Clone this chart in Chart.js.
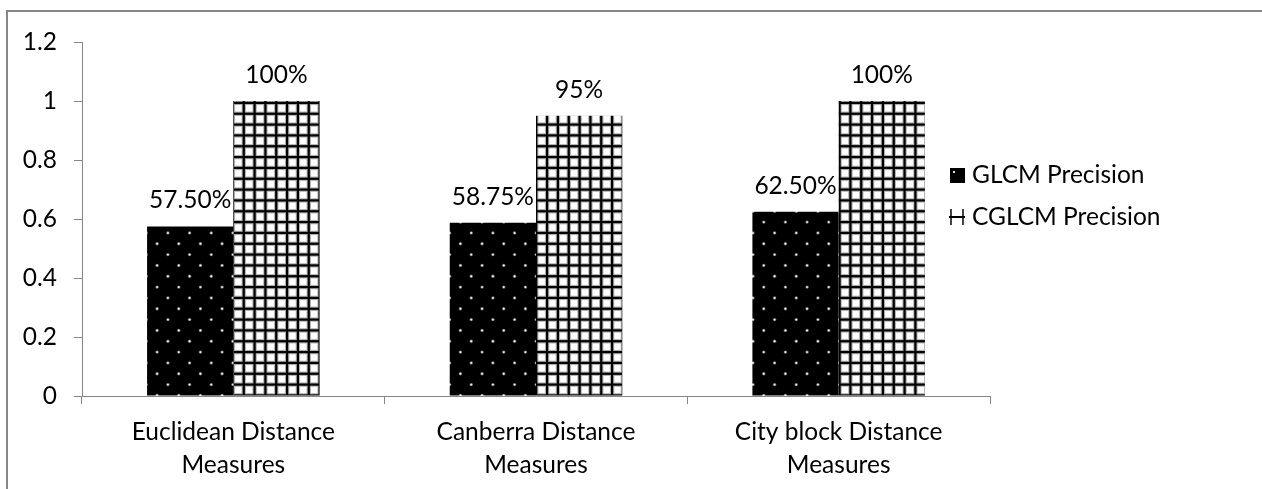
<!DOCTYPE html>
<html>
<head>
<meta charset="utf-8">
<script src="https://cdn.jsdelivr.net/npm/chart.js@4/dist/chart.umd.min.js"></script>
<style>
  html, body { margin: 0; padding: 0; background: #fff; }
  canvas { display: block; }
</style>
</head>
<body>
<canvas id="chart" width="1262" height="489"></canvas>
<script>
// Categories (multi-line axis labels)
const categories = [
  ["Euclidean Distance", "Measures"],
  ["Canberra Distance", "Measures"],
  ["City block Distance", "Measures"]
];
// Series
const seriesNames = ["GLCM Precision", "CGLCM Precision"];
const glcmPrecision = [0.575, 0.5875, 0.625];
const cglcmPrecision = [1.0, 0.95, 1.0];
// Percentage decimals used for each series' value labels
const labelDecimals = [2, 0];
// Y axis tick labels
const yTickLabels = ["0", "0.2", "0.4", "0.6", "0.8", "1", "1.2"];

const FONT = "Lato, 'Open Sans', sans-serif";
const FONT_SIZE = 24.5;
const AXIS_GREY = "#868686";

// Black fill with staggered white dots
function makeDotPattern(ctx) {
  const size = 65, s = size / 6;
  const c = document.createElement("canvas");
  c.width = size; c.height = size;
  const g = c.getContext("2d");
  g.fillStyle = "#000";
  g.fillRect(0, 0, size, size);
  for (let r = 0; r < 6; r++) {
    for (let k = 0; k < 3; k++) {
      const x = k * 2 * s + (r % 2) * s + s / 2;
      const y = r * s + s / 2;
      g.fillStyle = "rgba(200,200,200,0.6)";
      g.beginPath(); g.arc(x, y, 1.7, 0, Math.PI * 2); g.fill();
      g.fillStyle = "#f4f4f4";
      g.beginPath(); g.arc(x, y, 0.9, 0, Math.PI * 2); g.fill();
    }
  }
  return ctx.createPattern(c, "repeat");
}

// White fill with a dense black grid
function makeGridPattern(ctx) {
  const size = 65, s = size / 6;
  const c = document.createElement("canvas");
  c.width = size; c.height = size;
  const g = c.getContext("2d");
  g.fillStyle = "#fff";
  g.fillRect(0, 0, size, size);
  for (let i = 0; i < 6; i++) {
    const p = i * s + s / 2;
    g.fillStyle = "#b0b0b0";
    g.fillRect(p - 2.2, 0, 4.4, size);
    g.fillRect(0, p - 2.2, size, 4.4);
  }
  g.fillStyle = "#000";
  for (let i = 0; i < 6; i++) {
    const p = i * s + s / 2;
    g.fillRect(p - 1.1, 0, 2.2, size);
    g.fillRect(0, p - 1.1, size, 2.2);
  }
  return ctx.createPattern(c, "repeat");
}

const canvas = document.getElementById("chart");
const ctx = canvas.getContext("2d");
const dotFill = makeDotPattern(ctx);
const gridFill = makeGridPattern(ctx);

// Outer frame of the chart
const framePlugin = {
  id: "frame",
  beforeDraw(chart) {
    const c = chart.ctx;
    c.save();
    c.strokeStyle = AXIS_GREY;
    c.lineWidth = 2;
    c.beginPath();
    c.moveTo(7, chart.height);
    c.lineTo(7, 11);
    c.lineTo(chart.width, 11);
    c.stroke();
    c.restore();
  }
};

// Percentage labels above each bar
const valueLabelPlugin = {
  id: "valueLabels",
  afterDatasetsDraw(chart) {
    const c = chart.ctx;
    c.save();
    c.font = FONT_SIZE + "px " + FONT;
    c.fillStyle = "#000";
    c.textAlign = "center";
    c.textBaseline = "alphabetic";
    chart.data.datasets.forEach((ds, di) => {
      const meta = chart.getDatasetMeta(di);
      meta.data.forEach((bar, i) => {
        const txt = (ds.data[i] * 100).toFixed(labelDecimals[di]) + "%";
        c.fillText(txt, bar.x, bar.y - 18);
      });
    });
    c.restore();
  }
};

// Legend drawn to the right of the bars
const sideLegendPlugin = {
  id: "sideLegend",
  afterDraw(chart) {
    const c = chart.ctx;
    const x0 = 950, textX = 972;
    const rows = [175, 217];
    c.save();
    // GLCM marker: black square with a dot
    c.fillStyle = "#000";
    c.fillRect(x0, rows[0] - 7, 15, 15);
    c.fillStyle = "#ddd";
    c.fillRect(x0 + 3, rows[0] - 4, 2, 2);
    // CGLCM marker: grid sample
    c.fillStyle = "#444";
    c.fillRect(x0, rows[1] - 8, 2, 16);
    c.fillRect(x0 + 12, rows[1] - 8, 2, 16);
    c.fillStyle = "#000";
    c.fillRect(x0 - 1, rows[1] - 1, 16, 2);
    c.font = FONT_SIZE + "px " + FONT;
    c.fillStyle = "#000";
    c.textAlign = "left";
    c.textBaseline = "middle";
    chart.data.datasets.forEach((ds, di) => {
      c.fillText(ds.label, textX, rows[di]);
    });
    c.restore();
  }
};

new Chart(ctx, {
  type: "bar",
  data: {
    labels: categories,
    datasets: [
      { label: seriesNames[0], data: glcmPrecision, backgroundColor: dotFill, borderWidth: 0 },
      { label: seriesNames[1], data: cglcmPrecision, backgroundColor: gridFill, borderWidth: 0 }
    ]
  },
  options: {
    responsive: false,
    animation: false,
    devicePixelRatio: 1,
    layout: { padding: { left: 0, top: 42, right: 272, bottom: 0 } },
    datasets: {
      bar: { categoryPercentage: 0.57, barPercentage: 1.0 }
    },
    plugins: {
      legend: { display: false },
      tooltip: { enabled: false }
    },
    scales: {
      x: {
        offset: true,
        grid: {
          offset: true,
          drawOnChartArea: false,
          drawTicks: true,
          tickLength: 8,
          color: AXIS_GREY,
          tickColor: AXIS_GREY
        },
        border: { display: true, color: AXIS_GREY, width: 1 },
        ticks: {
          color: "#000",
          font: { family: FONT, size: FONT_SIZE, lineHeight: 1.34 },
          padding: 12,
          maxRotation: 0,
          autoSkip: false
        },
        afterFit(scale) { scale.height = 489 - 396; }
      },
      y: {
        min: 0,
        max: 1.2,
        grid: {
          drawOnChartArea: false,
          drawTicks: true,
          tickLength: 8,
          color: AXIS_GREY,
          tickColor: AXIS_GREY
        },
        border: { display: true, color: AXIS_GREY, width: 1 },
        ticks: {
          stepSize: 0.2,
          color: "#000",
          font: { family: FONT, size: FONT_SIZE },
          padding: 17,
          callback: (v, i) => yTickLabels[i]
        },
        afterFit(scale) { scale.width = 82; }
      }
    }
  },
  plugins: [framePlugin, valueLabelPlugin, sideLegendPlugin]
});
</script>
</body>
</html>
